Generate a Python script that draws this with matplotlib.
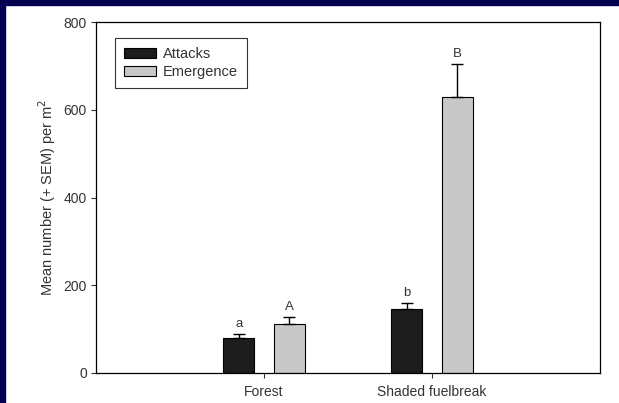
import numpy as np
import matplotlib.pyplot as plt
from matplotlib.patches import Rectangle

plt.rcParams['font.family'] = ['Liberation Sans', 'DejaVu Sans']

# Mean counts per m2 with +SEM, by site type
sites = ['Forest', 'Shaded fuelbreak']
attacks = [79, 147]
attacks_sem = [10, 13]
emergence = [112, 628]
emergence_sem = [16, 76]
attacks_letters = ['a', 'b']
emergence_letters = ['A', 'B']

fig = plt.figure(figsize=(6.19, 4.03), dpi=100)
fig.patch.set_facecolor('white')
# dark frame along the top and left edge
fig.patches.append(Rectangle((0, 1 - 5 / 403), 1, 5 / 403, transform=fig.transFigure,
                             color='#03004f', zorder=-1))
fig.patches.append(Rectangle((0, 0), 5 / 619, 1, transform=fig.transFigure,
                             color='#03004f', zorder=-1))

ax = fig.add_axes([96 / 619, 1 - 373 / 403, 504 / 619, 351 / 403])

x = np.arange(1, len(sites) + 1)
w = 0.185
off = 0.15
err_kw = dict(ecolor='black', elinewidth=1, capsize=4, capthick=1)

ax.bar(x - off, attacks, w, color='#1c1c1c', edgecolor='black', linewidth=0.8,
       yerr=[[0] * len(attacks), attacks_sem], error_kw=err_kw, label='Attacks')
ax.bar(x + off, emergence, w, color='#c8c8c8', edgecolor='black', linewidth=0.8,
       yerr=[[0] * len(emergence), emergence_sem], error_kw=err_kw, label='Emergence')

# significance letters above the error bars
for i in range(len(sites)):
    ax.text(x[i] - off, attacks[i] + attacks_sem[i] + 9, attacks_letters[i],
            ha='center', va='bottom', fontsize=9.5, color='#333333')
    ax.text(x[i] + off, emergence[i] + emergence_sem[i] + 9, emergence_letters[i],
            ha='center', va='bottom', fontsize=9.5, color='#333333')

ax.set_xlim(0, 3)
ax.set_ylim(0, 800)
ax.set_xticks(x)
ax.set_xticklabels(sites)
ax.set_yticks([0, 200, 400, 600, 800])
ax.tick_params(direction='out', length=3.5, width=0.8, labelsize=10,
               colors='#333333', pad=3)
ax.tick_params(axis='x', pad=5)
for s in ax.spines.values():
    s.set_linewidth(0.9)
ax.set_ylabel('Mean number (+ SEM) per m$^2$', fontsize=10.5, color='#333333', labelpad=4)

leg = ax.legend(loc='upper left', bbox_to_anchor=(0.037, 0.955), fontsize=10.5,
                frameon=True, fancybox=False, edgecolor='black',
                handlelength=2.2, handleheight=0.7, handletextpad=0.45,
                labelspacing=0.25, borderpad=0.65, borderaxespad=0)
leg.get_frame().set_linewidth(0.8)
for t in leg.get_texts():
    t.set_color('#333333')

fig.savefig('out.png', dpi=100)
